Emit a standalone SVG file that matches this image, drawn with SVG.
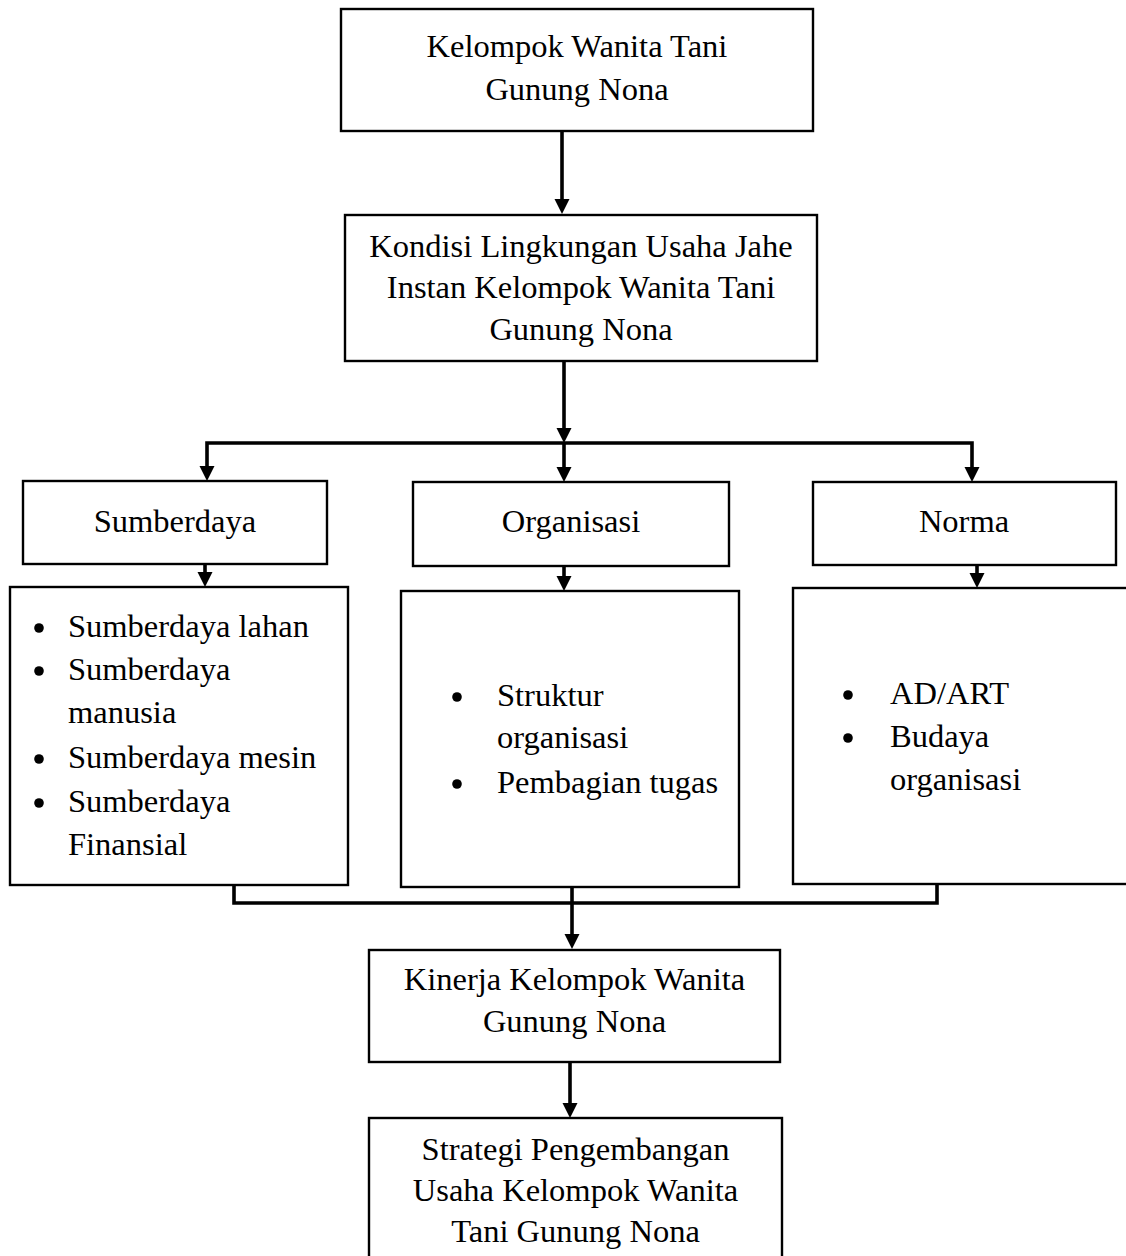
<svg xmlns="http://www.w3.org/2000/svg" width="1126" height="1256" viewBox="0 0 1126 1256">
<defs>
<style>
.box{fill:#fff;stroke:#000;stroke-width:2.4}
.t{font-family:"Liberation Serif","Times New Roman",serif;font-size:32.5px;fill:#000}
.c{text-anchor:middle}
.ln{fill:none;stroke:#000;stroke-width:3.6}
.dot{fill:#000}
</style>
</defs>
<rect width="1126" height="1256" fill="#fff"/>

<g id="connectors">
<path class="ln" d="M562,131 L562,200"/>
<polygon points="554.5,199 569.5,199 562,214"/>
<path class="ln" d="M564,362 L564,430"/>
<polygon points="556.5,428 571.5,428 564,443"/>
<path class="ln" d="M207,468 L207,443 L972,443 L972,468"/>
<polygon points="199.5,466 214.5,466 207,481"/>
<path class="ln" d="M564,443 L564,468"/>
<polygon points="556.5,467 571.5,467 564,482"/>
<polygon points="964.5,467 979.5,467 972,482"/>
<path class="ln" d="M205,565 L205,574"/>
<polygon points="197.5,572 212.5,572 205,587"/>
<path class="ln" d="M564,567 L564,578"/>
<polygon points="556.5,576 571.5,576 564,591"/>
<path class="ln" d="M977,566 L977,575"/>
<polygon points="969.5,573 984.5,573 977,588"/>
<path class="ln" d="M234,884 L234,903 L937,903 L937,884"/>
<path class="ln" d="M572,887 L572,936"/>
<polygon points="564.5,934 579.5,934 572,949"/>
<path class="ln" d="M570,1063 L570,1105"/>
<polygon points="562.5,1103 577.5,1103 570,1118"/>
</g>

<g id="n-kelompok">
<rect class="box" x="341" y="9" width="472" height="122"/>
<text class="t c" x="577" y="57">Kelompok Wanita Tani</text>
<text class="t c" x="577" y="100">Gunung Nona</text>
</g>

<g id="n-kondisi">
<rect class="box" x="345" y="215" width="472" height="146"/>
<text class="t c" x="581" y="257">Kondisi Lingkungan Usaha Jahe</text>
<text class="t c" x="581" y="298">Instan Kelompok Wanita Tani</text>
<text class="t c" x="581" y="340">Gunung Nona</text>
</g>

<g id="n-sumberdaya">
<rect class="box" x="23" y="481" width="304" height="83"/>
<text class="t c" x="175" y="532">Sumberdaya</text>
</g>

<g id="n-organisasi">
<rect class="box" x="413" y="482" width="316" height="84"/>
<text class="t c" x="571" y="532">Organisasi</text>
</g>

<g id="n-norma">
<rect class="box" x="813" y="482" width="303" height="83"/>
<text class="t c" x="964" y="532">Norma</text>
</g>

<g id="n-list-sumberdaya">
<rect class="box" x="10" y="587" width="338" height="298"/>
<circle class="dot" cx="39" cy="628" r="4.8"/>
<circle class="dot" cx="39" cy="671" r="4.8"/>
<circle class="dot" cx="39" cy="759" r="4.8"/>
<circle class="dot" cx="39" cy="803" r="4.8"/>
<text class="t" x="68" y="637">Sumberdaya lahan</text>
<text class="t" x="68" y="680">Sumberdaya</text>
<text class="t" x="68" y="723">manusia</text>
<text class="t" x="68" y="768">Sumberdaya mesin</text>
<text class="t" x="68" y="812">Sumberdaya</text>
<text class="t" x="68" y="855">Finansial</text>
</g>

<g id="n-list-organisasi">
<rect class="box" x="401" y="591" width="338" height="296"/>
<circle class="dot" cx="457" cy="697" r="4.8"/>
<circle class="dot" cx="457" cy="784" r="4.8"/>
<text class="t" x="497" y="706">Struktur</text>
<text class="t" x="497" y="748">organisasi</text>
<text class="t" x="497" y="793">Pembagian tugas</text>
</g>

<g id="n-list-norma">
<rect class="box" x="793" y="588" width="350" height="296"/>
<circle class="dot" cx="848" cy="695" r="4.8"/>
<circle class="dot" cx="848" cy="738" r="4.8"/>
<text class="t" x="890" y="704">AD/ART</text>
<text class="t" x="890" y="747">Budaya</text>
<text class="t" x="890" y="790">organisasi</text>
</g>

<g id="n-kinerja">
<rect class="box" x="369" y="950" width="411" height="112"/>
<text class="t c" x="574.5" y="990">Kinerja Kelompok Wanita</text>
<text class="t c" x="574.5" y="1032">Gunung Nona</text>
</g>

<g id="n-strategi">
<rect class="box" x="369" y="1118" width="413" height="160"/>
<text class="t c" x="575.5" y="1160">Strategi Pengembangan</text>
<text class="t c" x="575.5" y="1201">Usaha Kelompok Wanita</text>
<text class="t c" x="575.5" y="1242">Tani Gunung Nona</text>
</g>
</svg>
